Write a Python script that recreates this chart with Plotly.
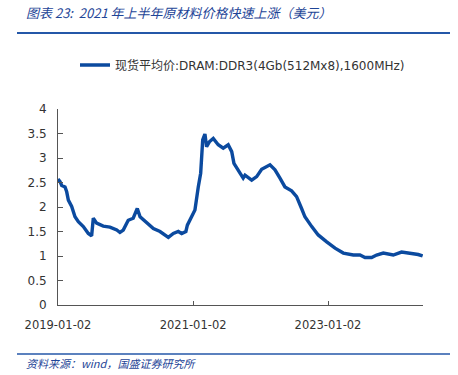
import plotly.graph_objects as go

dates = ["2019-01-02","2019-01-13","2019-01-22","2019-02-09","2019-02-18","2019-02-27","2019-03-17",
         "2019-04-04","2019-04-22","2019-05-19","2019-06-15","2019-07-03","2019-07-12","2019-07-30",
         "2019-09-04","2019-10-10","2019-11-16","2019-12-03","2019-12-21","2020-01-17","2020-02-13",
         "2020-03-06","2020-03-21","2020-04-26","2020-06-01","2020-07-07","2020-08-21","2020-09-17",
         "2020-10-14","2020-11-01","2020-11-24","2020-12-02","2020-12-25","2021-01-12","2021-01-30",
         "2021-02-12","2021-02-23","2021-03-07","2021-03-16","2021-03-31","2021-04-21","2021-05-18",
         "2021-06-14","2021-07-11","2021-07-30","2021-08-11","2021-09-13","2021-09-30","2021-10-10",
         "2021-11-15","2021-12-12","2022-01-08","2022-02-22","2022-03-21","2022-04-17","2022-05-14",
         "2022-06-19","2022-07-16","2022-08-12","2022-08-30","2022-10-06","2022-11-10","2022-12-26",
         "2023-02-09","2023-03-26","2023-05-19","2023-06-24","2023-07-21","2023-08-26","2023-09-22",
         "2023-10-28","2023-12-21","2024-02-04","2024-03-02","2024-04-07","2024-05-04","2024-05-28"]
prices = [2.57,2.52,2.44,2.41,2.31,2.14,2.01,
          1.80,1.70,1.60,1.46,1.41,1.77,1.67,
          1.61,1.59,1.53,1.48,1.53,1.73,1.77,
          1.97,1.80,1.67,1.56,1.50,1.38,1.46,
          1.50,1.46,1.50,1.63,1.80,1.94,2.41,
          2.69,3.37,3.49,3.23,3.33,3.40,3.27,
          3.20,3.27,3.13,2.89,2.69,2.59,2.65,
          2.55,2.62,2.77,2.86,2.76,2.59,2.41,
          2.33,2.21,1.97,1.80,1.60,1.43,1.29,
          1.16,1.06,1.02,1.02,0.97,0.97,1.02,
          1.06,1.02,1.08,1.07,1.04,1.03,1.00]
tick_dates = ["2019-01-02","2021-01-02","2023-01-02"]
y_ticks = [0,0.5,1,1.5,2,2.5,3,3.5,4]
y_labels = ["0","0.5","1","1.5","2","2.5","3","3.5","4"]
series_name = "现货平均价:DRAM:DDR3(4Gb(512Mx8),1600MHz)"
title_text = "图表 23:  2021 年上半年原材料价格快速上涨（美元）"
source_text = "资料来源：wind，国盛证券研究所"

LINE = "#0B4A9F"
BLUE = "#2457A8"
TXT = "#1E4597"
FONT = "DejaVu Sans, Noto Sans CJK SC, sans-serif"

fig = go.Figure()
fig.add_trace(go.Scatter(x=dates, y=prices, mode="lines", name=series_name,
                         line=dict(color=LINE, width=3.4), showlegend=True))

L, R, T, B = 58, 423, 109, 305
W = R - L
H = B - T
def px(x): return (x - L) / W
def py(y): return (B - y) / H

fig.update_layout(
    width=458, height=375,
    margin=dict(l=L, r=458 - R, t=T, b=375 - B, pad=0, autoexpand=False),
    paper_bgcolor="white", plot_bgcolor="white",
    font=dict(family=FONT, size=12, color="#333333"),
    showlegend=True,
    legend=dict(x=px(75), y=py(65), xanchor="left", yanchor="middle",
                orientation="h", font=dict(size=12, color="#333333", family=FONT),
                bgcolor="rgba(0,0,0,0)", itemwidth=30),
    xaxis=dict(type="date", range=["2019-01-02", "2024-05-30"],
               tickvals=tick_dates, ticktext=tick_dates,
               ticks="inside", ticklen=4, tickcolor="#555555",
               showline=True, linecolor="#555555", linewidth=1,
               showgrid=False, zeroline=False, ticklabelstandoff=9,
               tickfont=dict(size=11.5, color="#333333")),
    yaxis=dict(range=[0, 4], tickvals=y_ticks, ticktext=y_labels,
               ticks="inside", ticklen=5, tickcolor="#555555",
               showline=True, linecolor="#555555", linewidth=1,
               showgrid=False, zeroline=False, ticklabelstandoff=8,
               tickfont=dict(size=12, color="#333333")),
    shapes=[
        dict(type="line", xref="paper", yref="paper", x0=px(17), x1=px(450), y0=py(33), y1=py(33),
             line=dict(color=BLUE, width=2)),
        dict(type="line", xref="paper", yref="paper", x0=px(17), x1=px(450), y0=py(354), y1=py(354),
             line=dict(color=BLUE, width=1.5)),
    ],
    annotations=[
        dict(text=title_text, xref="paper", yref="paper", x=px(24), y=py(13),
             xanchor="left", yanchor="middle", showarrow=False,
             font=dict(size=13, color=TXT, family="Noto Sans CJK SC, DejaVu Sans", style="italic")),
        dict(text=source_text, xref="paper", yref="paper", x=px(24), y=py(363),
             xanchor="left", yanchor="middle", showarrow=False,
             font=dict(size=11, color=TXT, family="Noto Sans CJK SC, DejaVu Sans", style="italic")),
    ],
)

fig.write_html("out.html", config={"displayModeBar": False},
               post_script="document.body.style.margin='0';")
